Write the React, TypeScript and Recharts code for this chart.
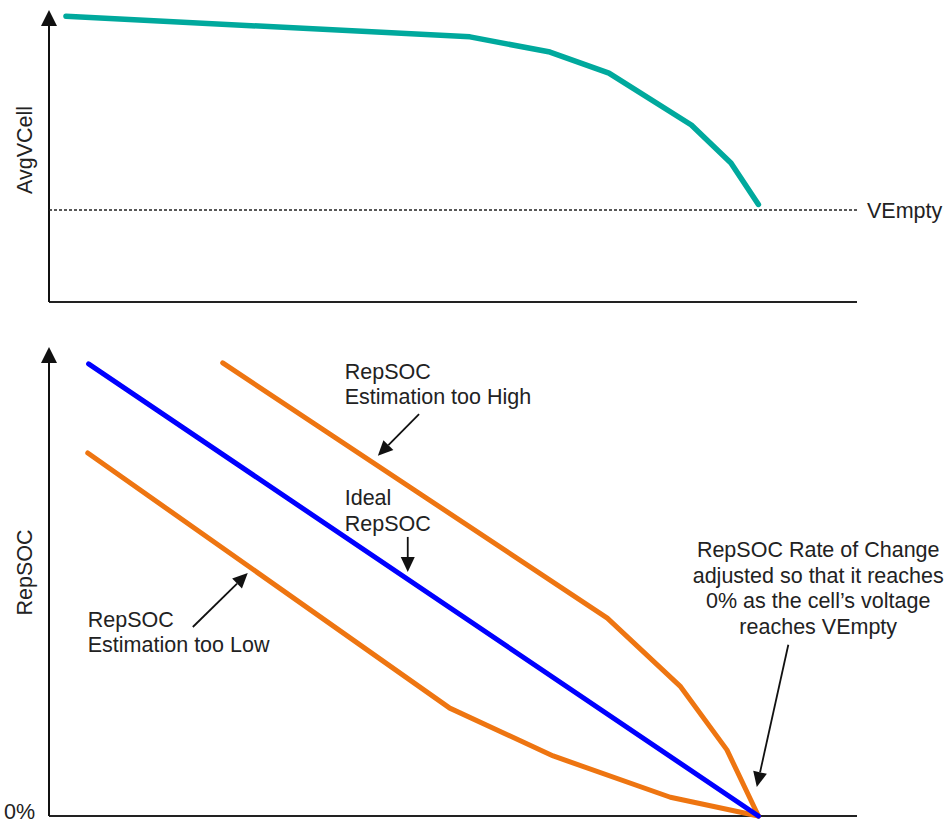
import React from 'react'
import { LineChart, Line, XAxis, YAxis, ReferenceLine, ReferenceDot } from 'recharts'

const avgVCell = [
  { t: 2.1, v: 97.9 },
  { t: 52.1, v: 90.8 },
  { t: 62.0, v: 85.6 },
  { t: 69.3, v: 78.4 },
  { t: 79.5, v: 60.6 },
  { t: 84.4, v: 47.6 },
  { t: 87.8, v: 33.4 },
]
const vEmpty = 31.5

const socIdeal = [
  { t: 4.9, soc: 96.4 },
  { t: 87.8, soc: 0 },
]
const socHigh = [
  { t: 21.5, soc: 96.6 },
  { t: 69.1, soc: 42.2 },
  { t: 78.1, soc: 27.7 },
  { t: 83.9, soc: 14.1 },
  { t: 87.8, soc: 0 },
]
const socLow = [
  { t: 4.8, soc: 77.4 },
  { t: 49.6, soc: 23.0 },
  { t: 62.4, soc: 12.8 },
  { t: 76.9, soc: 4.0 },
  { t: 87.8, soc: 0 },
]

const notes = [
  { t: 36.6, soc: 94.7, anchor: 'start', lines: ['RepSOC', 'Estimation too High'] },
  { t: 36.6, soc: 67.8, anchor: 'start', lines: ['Ideal', 'RepSOC'] },
  { t: 4.8, soc: 41.8, anchor: 'start', lines: ['RepSOC', 'Estimation too Low'] },
  {
    t: 95.2, soc: 56.7, anchor: 'middle',
    lines: ['RepSOC Rate of Change', 'adjusted so that it reaches', '0% as the cell\u2019s voltage', 'reaches VEmpty'],
  },
]

const pointers = [
  { from: { t: 45.8, soc: 85.7 }, to: { t: 40.7, soc: 76.8 } },
  { from: { t: 44.4, soc: 59.5 }, to: { t: 44.4, soc: 52.0 } },
  { from: { t: 17.8, soc: 40.3 }, to: { t: 24.6, soc: 51.8 } },
  { from: { t: 91.5, soc: 36.5 }, to: { t: 87.6, soc: 6.2 } },
]

const INK = '#222'
const FONT = 21.5

const arrow = (head: number, half: number, width: number) => (p: any) => {
  const { x1, y1, x2, y2 } = p
  const dx = x2 - x1
  const dy = y2 - y1
  const len = Math.hypot(dx, dy) || 1
  const ux = dx / len
  const uy = dy / len
  const bx = x2 - ux * head
  const by = y2 - uy * head
  return (
    <g>
      <line x1={x1} y1={y1} x2={bx} y2={by} stroke="#111" strokeWidth={width} />
      <polygon
        points={`${x2},${y2} ${bx - uy * half},${by + ux * half} ${bx + uy * half},${by - ux * half}`}
        fill="#111"
      />
    </g>
  )
}

const sideTitle = (text: string, shift: number) => (props: any) => {
  const vb = props.viewBox || { x: 0, y: 0, width: 49, height: 0 }
  const cx = vb.x + vb.width / 2
  const cy = vb.y + vb.height / 2 + shift
  return (
    <text x={cx} y={cy} transform={`rotate(-90, ${cx}, ${cy})`} textAnchor="middle"
      dominantBaseline="central" fontSize={FONT} fill={INK}>
      {text}
    </text>
  )
}

const noteShape = (lines: string[], anchor: string) => (p: any) => (
  <text x={p.cx} y={p.cy} textAnchor={anchor as any} fontSize={FONT} fill={INK} dominantBaseline="central">
    {lines.map((l, i) => (
      <tspan key={i} x={p.cx} y={p.cy + i * 25.5}>{l}</tspan>
    ))}
  </text>
)

export default function App() {
  return (
    <div style={{ position: 'absolute', left: 0, top: 0, width: 945, height: 824, background: '#fff',
      fontFamily: '"Liberation Sans", Arial, sans-serif' }}>
      <LineChart width={945} height={320} margin={{ top: 10, right: 88, bottom: 18, left: 0 }}>
        <XAxis type="number" dataKey="t" domain={[0, 100]} hide allowDataOverflow />
        <YAxis type="number" domain={[0, 100]} tick={false} tickLine={false} axisLine={false} width={49}
          label={{ content: sideTitle('AvgVCell', -6) }} />
        <ReferenceLine y={0} stroke="#222" strokeWidth={2} />
        <ReferenceLine segment={[{ x: 0, y: 0 }, { x: 0, y: 100 }]} shape={arrow(16, 8, 2)} />
        <ReferenceLine y={vEmpty} stroke={INK} strokeWidth={1.5} strokeDasharray="3 2"
          label={{ value: 'VEmpty', position: 'right', offset: 10, fill: INK, fontSize: FONT }} />
        <Line data={avgVCell} dataKey="v" type="linear" stroke="#00A99D" strokeWidth={5.5}
          strokeLinecap="round" strokeLinejoin="round" dot={false} activeDot={false} isAnimationActive={false} />
      </LineChart>
      <LineChart width={945} height={504} margin={{ top: 27, right: 88, bottom: 8, left: 0 }}>
        <XAxis type="number" dataKey="t" domain={[0, 100]} hide allowDataOverflow />
        <YAxis type="number" domain={[0, 100]} ticks={[0]} tickFormatter={() => '0%'} tickLine={false}
          tickSize={6} tickMargin={8} axisLine={false} width={49}
          tick={{ fontSize: FONT, fill: INK }}
          label={{ content: sideTitle('RepSOC', -9) }} />
        <ReferenceLine y={0} stroke="#222" strokeWidth={2} />
        <ReferenceLine segment={[{ x: 0, y: 0 }, { x: 0, y: 100 }]} shape={arrow(16, 8, 2)} />
        <Line data={socLow} dataKey="soc" type="linear" stroke="#EE7511" strokeWidth={5}
          strokeLinecap="round" strokeLinejoin="round" dot={false} activeDot={false} isAnimationActive={false} />
        <Line data={socHigh} dataKey="soc" type="linear" stroke="#EE7511" strokeWidth={5}
          strokeLinecap="round" strokeLinejoin="round" dot={false} activeDot={false} isAnimationActive={false} />
        <Line data={socIdeal} dataKey="soc" type="linear" stroke="#0000FF" strokeWidth={5}
          strokeLinecap="round" strokeLinejoin="round" dot={false} activeDot={false} isAnimationActive={false} />
        {pointers.map((a, i) => (
          <ReferenceLine key={'p' + i} segment={[{ x: a.from.t, y: a.from.soc }, { x: a.to.t, y: a.to.soc }]}
            shape={arrow(15, 7, 1.8)} />
        ))}
        {notes.map((n, i) => (
          <ReferenceDot key={'n' + i} x={n.t} y={n.soc} r={0} shape={noteShape(n.lines, n.anchor)} />
        ))}
      </LineChart>
    </div>
  )
}
